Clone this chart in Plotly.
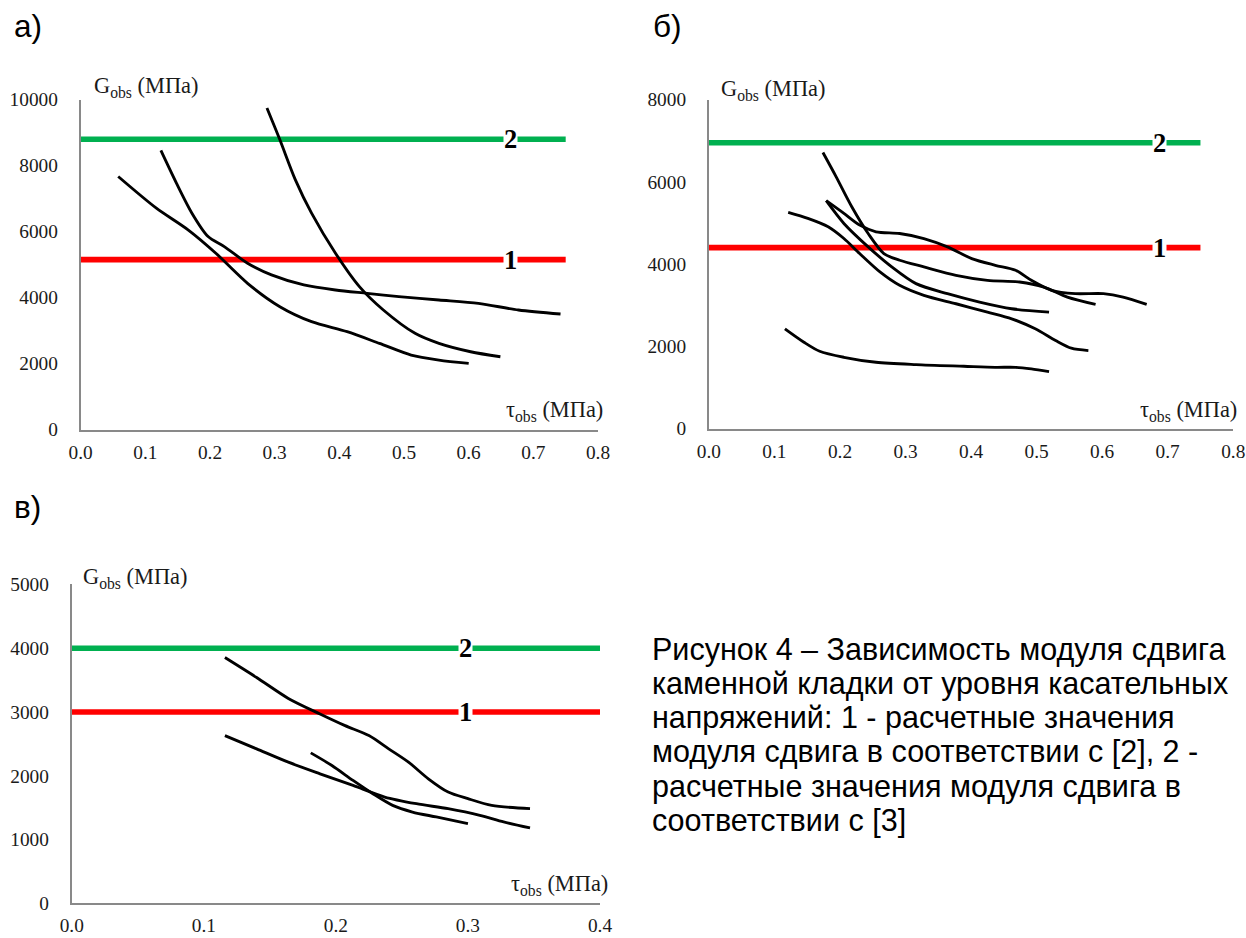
import plotly.graph_objects as go

W, H = 1246, 938
# The photographed page comes out slightly shrunk toward its centre
# (about 0.982 horizontally and 0.978 vertically), so the targets below, which are
# positions in the final picture, are spread out by that factor.
SX, SY = 0.982, 0.978
CX, CY = W / 2, H / 2

# ---------------- data ----------------
a1_x = [0.058, 0.117, 0.166, 0.209, 0.258, 0.308, 0.357, 0.412, 0.462, 0.511, 0.554, 0.600]
a1_y = [7670, 6710, 6052, 5343, 4432, 3724, 3269, 2965, 2611, 2257, 2105, 2004]
a2_x = [0.124, 0.148, 0.172, 0.197, 0.222, 0.258, 0.295, 0.345, 0.394, 0.443, 0.492, 0.554, 0.615, 0.677, 0.742]
a2_y = [8460, 7469, 6558, 5849, 5546, 5040, 4686, 4382, 4230, 4129, 4028, 3927, 3825, 3623, 3501]
a3_x = [0.288, 0.308, 0.332, 0.357, 0.394, 0.431, 0.468, 0.517, 0.554, 0.603, 0.649]
a3_y = [9746, 8784, 7570, 6558, 5343, 4331, 3623, 2915, 2611, 2358, 2206]
a_lines = {"1": 5150, "2": 8800}

b1_x = [0.174, 0.194, 0.218, 0.243, 0.267, 0.291, 0.328, 0.377, 0.425, 0.474, 0.511, 0.547, 0.590]
b1_y = [6714, 6128, 5395, 4744, 4256, 4093, 3931, 3727, 3605, 3564, 3442, 3198, 3019]
b2_x = [0.179, 0.206, 0.230, 0.255, 0.291, 0.328, 0.364, 0.401, 0.437, 0.468, 0.492, 0.523, 0.559, 0.602, 0.632, 0.668]
b2_y = [5542, 5233, 4948, 4785, 4744, 4622, 4419, 4134, 3971, 3849, 3605, 3361, 3280, 3280, 3198, 3019]
b3_x = [0.179, 0.206, 0.243, 0.279, 0.316, 0.364, 0.413, 0.462, 0.519]
b3_y = [5542, 4989, 4419, 3931, 3524, 3280, 3076, 2913, 2832]
b4_x = [0.121, 0.151, 0.182, 0.206, 0.230, 0.261, 0.291, 0.328, 0.377, 0.425, 0.462, 0.498, 0.529, 0.553, 0.579]
b4_y = [5257, 5111, 4907, 4622, 4256, 3809, 3483, 3239, 3035, 2832, 2669, 2425, 2140, 1953, 1896]
b5_x = [0.116, 0.145, 0.169, 0.206, 0.255, 0.316, 0.389, 0.437, 0.468, 0.492, 0.519]
b5_y = [2425, 2100, 1880, 1733, 1611, 1554, 1514, 1489, 1489, 1449, 1383]
b_lines = {"1": 4400, "2": 6950}

c1_x = [0.116, 0.140, 0.164, 0.188, 0.207, 0.225, 0.240, 0.255, 0.270, 0.285, 0.300, 0.318, 0.347]
c1_y = [3854, 3541, 3213, 2969, 2786, 2630, 2422, 2213, 1953, 1745, 1641, 1536, 1484]
c2_x = [0.116, 0.140, 0.164, 0.188, 0.213, 0.237, 0.261, 0.285, 0.309, 0.327, 0.347]
c2_y = [2630, 2422, 2213, 2031, 1849, 1667, 1562, 1484, 1380, 1276, 1182]
c3_x = [0.181, 0.197, 0.213, 0.228, 0.243, 0.258, 0.276, 0.300]
c3_y = [2359, 2161, 1927, 1719, 1536, 1432, 1354, 1250]
c_lines = {"1": 3000, "2": 4000}

x_ticks_ab = [0.0, 0.1, 0.2, 0.3, 0.4, 0.5, 0.6, 0.7, 0.8]
x_ticks_c = [0.0, 0.1, 0.2, 0.3, 0.4]

caption_lines = [
    "Рисунок 4 – Зависимость модуля сдвига",
    "каменной кладки от уровня касательных",
    "напряжений: 1 - расчетные значения",
    "модуля сдвига в соответствии с [2], 2 -",
    "расчетные значения модуля сдвига в",
    "соответствии с [3]",
]

def clamp(v):
    return min(1.0, max(0.0, v))

def px_x(p):
    return (CX + (p - CX) / SX) / W

def px_y(p):
    return 1 - (CY + (p - CY) / SY) / H

K = 1 / SX  # size compensation

SERIF = "Liberation Serif, Times New Roman, serif"
SANS = "Liberation Sans, Arial, sans-serif"
AX_COLOR = "#898989"
TXT = "#1a1a1a"

panels = [
    dict(ax="", xpx=(80, 598), ypx=(430, 100), xr=[0, 0.8], yr=[0, 10000], dy=2000,
         curves=[(a1_x, a1_y), (a2_x, a2_y), (a3_x, a3_y)], lines=a_lines, lab=0.665, end=0.75,
         xticks=x_ticks_ab),
    dict(ax="2", xpx=(709, 1234), ypx=(429, 100), xr=[0, 0.8], yr=[0, 8000], dy=2000,
         curves=[(b1_x, b1_y), (b2_x, b2_y), (b3_x, b3_y), (b4_x, b4_y), (b5_x, b5_y)],
         lines=b_lines, lab=0.687, end=0.75, xticks=x_ticks_ab),
    dict(ax="3", xpx=(71, 600), ypx=(904, 585), xr=[0, 0.4], yr=[0, 5000], dy=1000,
         curves=[(c1_x, c1_y), (c2_x, c2_y), (c3_x, c3_y)], lines=c_lines, lab=0.298, end=0.4,
         xticks=x_ticks_c),
]

fig = go.Figure()
annotations = []

for p in panels:
    xa = "x" + p["ax"]
    ya = "y" + p["ax"]
    for key, color in (("2", "#00B050"), ("1", "#FF0000")):
        val = p["lines"][key]
        fig.add_trace(go.Scatter(x=[0, p["end"]], y=[val, val], mode="lines",
                                 line=dict(color=color, width=5.5 * K), xaxis=xa, yaxis=ya,
                                 showlegend=False, hoverinfo="skip", cliponaxis=False))
        annotations.append(dict(x=p["lab"], y=val, xref=xa, yref=ya, text="<b>%s</b>" % key,
                                showarrow=False, font=dict(family=SERIF, size=26 * K, color="black"),
                                bgcolor="white", borderpad=0))
    for cx, cy in p["curves"]:
        fig.add_trace(go.Scatter(x=cx, y=cy, mode="lines",
                                 line=dict(color="black", width=2.8 * K, shape="spline", smoothing=0.8),
                                 xaxis=xa, yaxis=ya, showlegend=False, hoverinfo="skip",
                                 cliponaxis=False))
    xl, xr = p["xpx"]
    yb, yt = p["ypx"]
    xkey = "xaxis" + p["ax"]
    ykey = "yaxis" + p["ax"]
    fig.update_layout(**{
        xkey: dict(domain=[clamp(px_x(xl)), clamp(px_x(xr))], anchor=ya, range=p["xr"],
                   tickvals=p["xticks"], ticktext=["%.1f" % v for v in p["xticks"]],
                   showline=True, linecolor=AX_COLOR, linewidth=1.8, showgrid=False, zeroline=False,
                   ticks="", ticklabelstandoff=4,
                   tickfont=dict(family=SERIF, size=19 * K, color=TXT), fixedrange=True),
        ykey: dict(domain=[clamp(px_y(yb)), clamp(px_y(yt))], anchor=xa, range=p["yr"], dtick=p["dy"],
                   showline=True, linecolor=AX_COLOR, linewidth=1.8, showgrid=False, zeroline=False,
                   ticks="", ticklabelstandoff=17, tickformat="d",
                   tickfont=dict(family=SERIF, size=19 * K, color=TXT), fixedrange=True),
    })

axis_titles = [
    ("G<sub>obs</sub> (МПа)", 91, 87),
    ("G<sub>obs</sub> (МПа)", 719, 90),
    ("G<sub>obs</sub> (МПа)", 80, 579),
    ("τ<sub>obs</sub> (МПа)", 504, 411),
    ("τ<sub>obs</sub> (МПа)", 1139, 411),
    ("τ<sub>obs</sub> (МПа)", 509, 886),
]
for txt, x0, yc in axis_titles:
    annotations.append(dict(x=px_x(x0), y=px_y(yc), xref="paper", yref="paper", text=txt,
                            xanchor="left", yanchor="middle", showarrow=False,
                            font=dict(family=SERIF, size=22 * K, color=TXT)))

for txt, x0, yc in (("а)", 11, 26), ("б)", 651, 26), ("в)", 11, 508)):
    annotations.append(dict(x=px_x(x0), y=px_y(yc), xref="paper", yref="paper", text=txt,
                            xanchor="left", yanchor="middle", showarrow=False,
                            font=dict(family=SANS, size=31 * K, color="black")))

for i, line in enumerate(caption_lines):
    annotations.append(dict(x=px_x(650), y=px_y(650 + 34.2 * i), xref="paper", yref="paper",
                            text=line, xanchor="left", yanchor="middle", showarrow=False,
                            font=dict(family=SANS, size=30 * K, color="black")))

fig.update_layout(width=W, height=H, margin=dict(l=0, r=0, t=0, b=0),
                  paper_bgcolor="white", plot_bgcolor="white",
                  annotations=annotations, showlegend=False)

fig.write_html("out.html", config={"displayModeBar": False},
               post_script="document.body.style.margin='0';document.body.style.overflow='hidden';")
